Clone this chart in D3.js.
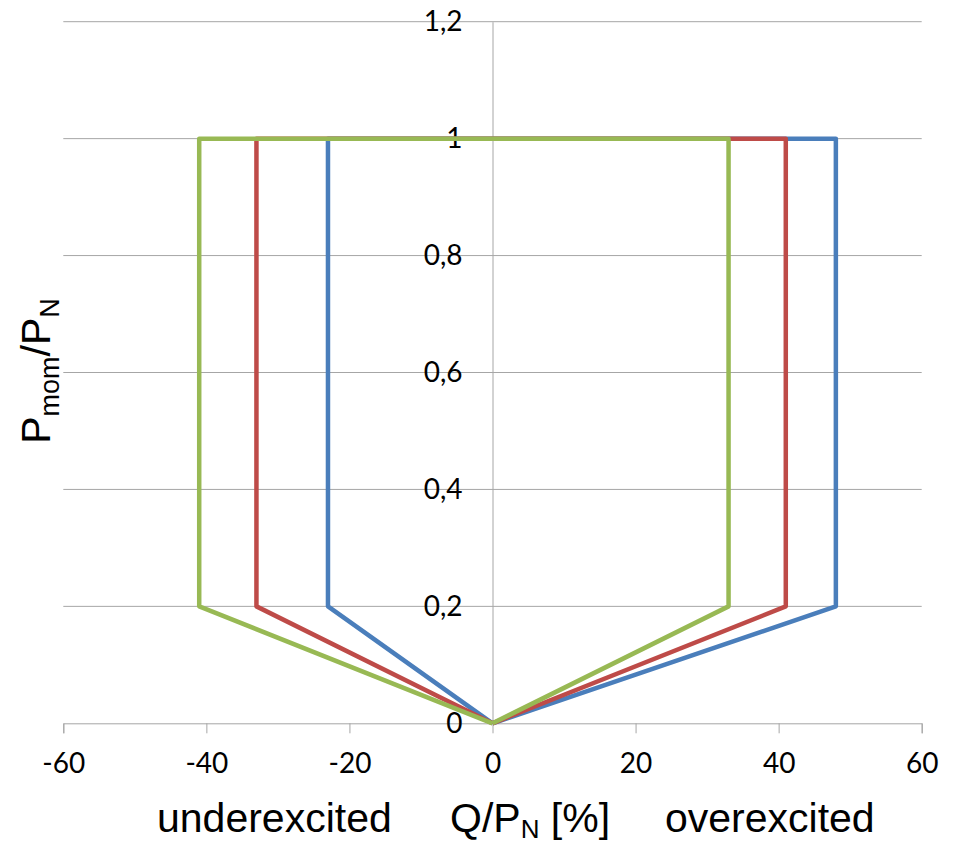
<!DOCTYPE html>
<html>
<head>
<meta charset="utf-8">
<script src="https://cdn.jsdelivr.net/npm/d3@7"></script>
<style>
  body { margin: 0; background: #fff; }
  svg { display: block; }
</style>
</head>
<body>
<div id="chart"></div>
<script>
(function(){

const width = 956;
const height = 843;
const margin = {top:21.7, right:34.3, bottom:119.7, left:63.3};

// reactive power limits (Q/PN in %) vs active power (Pmom/PN)
const blueQ  = [0, -23, -23, 48, 48, 0];
const blueP  = [0, 0.2, 1, 1, 0.2, 0];
const redQ   = [0, -33, -33, 41, 41, 0];
const redP   = [0, 0.2, 1, 1, 0.2, 0];
const greenQ = [0, -41, -41, 33, 33, 0];
const greenP = [0, 0.2, 1, 1, 0.2, 0];

const xTicks = [-60, -40, -20, 0, 20, 40, 60];
const yTicks = [0, 0.2, 0.4, 0.6, 0.8, 1, 1.2];

const series = [
  {q: blueQ,  p: blueP,  color: "#4a7ebb"},
  {q: redQ,   p: redP,   color: "#be4b48"},
  {q: greenQ, p: greenP, color: "#98b954"}
];

const svg = d3.select("#chart")
  .append("svg")
  .attr("width", width)
  .attr("height", height);

const x = d3.scaleLinear()
  .domain([-60, 60])
  .range([margin.left, width - margin.right]);

const y = d3.scaleLinear()
  .domain([0, 1.2])
  .range([height - margin.bottom, margin.top]);

// horizontal gridlines
svg.append("g")
  .selectAll("line")
  .data(yTicks.filter(d => d > 0))
  .enter()
  .append("line")
  .attr("x1", x(-60))
  .attr("x2", x(60))
  .attr("y1", d => y(d))
  .attr("y2", d => y(d))
  .attr("stroke", "#a6a6a6")
  .attr("stroke-width", 1);

const tickFont = "Lato, 'Open Sans', sans-serif";

// X axis at P = 0
const xAxis = svg.append("g")
  .attr("transform", `translate(0,${y(0)})`)
  .call(d3.axisBottom(x).tickValues(xTicks).tickSize(10).tickPadding(20).tickFormat(d3.format("d")));

xAxis.select(".domain").attr("stroke", "#a6a6a6");
xAxis.selectAll(".tick line").attr("stroke", "#a6a6a6");
xAxis.selectAll(".tick text")
  .style("font-family", tickFont)
  .style("font-size", "28px")
  .attr("fill", "#000")
  .text(d => String(d));

// Y axis at Q = 0
const yAxis = svg.append("g")
  .attr("transform", `translate(${x(0)},0)`)
  .call(d3.axisLeft(y).tickValues(yTicks).tickSize(0).tickPadding(30)
    .tickFormat(d => d3.format("~g")(d).replace(".", ",")));

yAxis.select(".domain").attr("stroke", "#a6a6a6");
yAxis.selectAll(".tick text")
  .style("font-family", tickFont)
  .style("font-size", "28px")
  .attr("fill", "#000");

// the curves
const line = d3.line()
  .x(d => x(d[0]))
  .y(d => y(d[1]));

svg.append("g")
  .selectAll("path")
  .data(series)
  .enter()
  .append("path")
  .attr("d", s => line(s.q.map((q, i) => [q, s.p[i]])))
  .attr("fill", "none")
  .attr("stroke", s => s.color)
  .attr("stroke-width", 4.5)
  .attr("stroke-linejoin", "round");

// axis titles
const titleFont = "'Liberation Sans', Arial, sans-serif";

const yTitle = svg.append("text")
  .attr("transform", `translate(50,371) rotate(-90)`)
  .attr("text-anchor", "middle")
  .style("font-family", titleFont)
  .style("font-size", "41px")
  .attr("fill", "#000");
yTitle.append("tspan").text("P");
yTitle.append("tspan").attr("dy", 9).style("font-size", "27px").text("mom");
yTitle.append("tspan").attr("dy", -9).text("/P");
yTitle.append("tspan").attr("dy", 9).style("font-size", "27px").text("N");

svg.append("text")
  .attr("x", 157)
  .attr("y", 832)
  .style("font-family", titleFont)
  .style("font-size", "41px")
  .attr("fill", "#000")
  .text("underexcited");

const xTitle = svg.append("text")
  .attr("x", 450)
  .attr("y", 832)
  .style("font-family", titleFont)
  .style("font-size", "41px")
  .attr("fill", "#000");
xTitle.append("tspan").text("Q/P");
xTitle.append("tspan").attr("dy", 6).style("font-size", "26px").text("N");
xTitle.append("tspan").attr("dy", -6).text(" [%]");

svg.append("text")
  .attr("x", 665)
  .attr("y", 832)
  .style("font-family", titleFont)
  .style("font-size", "41px")
  .attr("fill", "#000")
  .text("overexcited");

})();
</script>
</body>
</html>
